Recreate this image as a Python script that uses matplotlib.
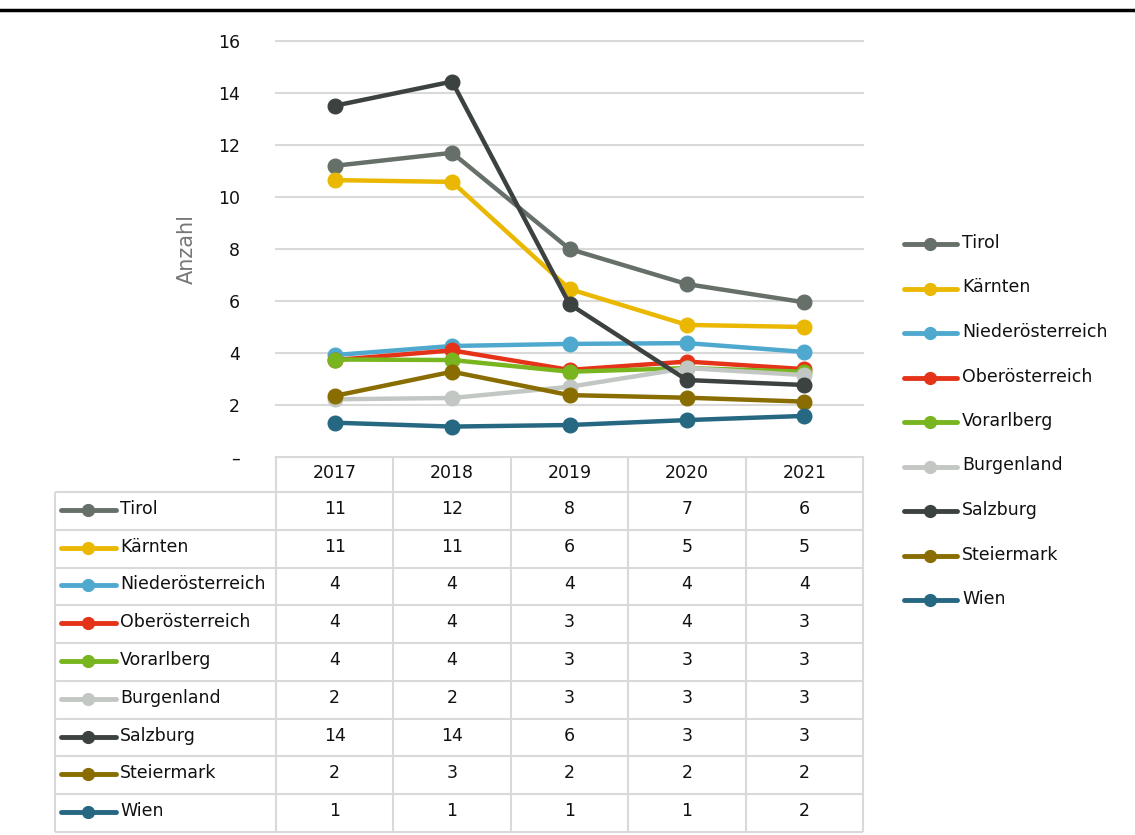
import numpy as np
import matplotlib.pyplot as plt

years = ['2017', '2018', '2019', '2020', '2021']
regions = ['Tirol', 'Kärnten', 'Niederösterreich', 'Oberösterreich', 'Vorarlberg',
           'Burgenland', 'Salzburg', 'Steiermark', 'Wien']

tirol = [11.2, 11.7, 8.0, 6.65, 5.95]
kaernten = [10.65, 10.58, 6.46, 5.08, 5.0]
noe = [3.92, 4.27, 4.35, 4.38, 4.04]
ooe = [3.73, 4.1, 3.35, 3.67, 3.38]
vorarlberg = [3.75, 3.73, 3.28, 3.42, 3.28]
burgenland = [2.22, 2.27, 2.7, 3.42, 3.15]
salzburg = [13.51, 14.44, 5.88, 2.96, 2.77]
steiermark = [2.35, 3.28, 2.38, 2.28, 2.13]
wien = [1.32, 1.17, 1.23, 1.42, 1.58]

series = [tirol, kaernten, noe, ooe, vorarlberg, burgenland, salzburg, steiermark, wien]
colors = ['#667069', '#eab800', '#4fa9cf', '#e5331a', '#78b51e',
          '#c3c7c3', '#3c423f', '#8a6d00', '#266782']

W, H = 1135, 835
plt.rcParams['font.family'] = ['DejaVu Sans']
txt = '#111111'
grid_c = '#d9d9d9'
fs = 12.5

fig = plt.figure(figsize=(W / 100, H / 100), dpi=100)

# background layer in pixel coordinates: top rule, table, legend
ov = fig.add_axes([0, 0, 1, 1])
ov.set_xlim(0, W)
ov.set_ylim(H, 0)
ov.axis('off')
ov.plot([0, W], [10, 10], color='black', lw=2.5)

# main line chart
left, right, top, bottom = 276, 863, 41, 457
ax = fig.add_axes([left / W, 1 - bottom / H, (right - left) / W, (bottom - top) / H])
x = np.arange(len(years))
for vals, c in zip(series, colors):
    ax.plot(x, vals, color=c, lw=3.2, marker='o', ms=10.5, solid_capstyle='round',
            clip_on=False)
ax.set_xlim(-0.5, len(years) - 0.5)
ax.set_ylim(0, 16)
ax.set_yticks(range(0, 17, 2))
ax.set_yticklabels(['–'] + [str(v) for v in range(2, 17, 2)])
ax.set_xticks([])
ax.tick_params(axis='y', length=0, pad=26, labelsize=fs, labelcolor=txt)
ax.grid(axis='y', color=grid_c, lw=1.5)
for gl in ax.get_ygridlines():
    gl.set_clip_on(False)
ax.set_axisbelow(True)
for s in ax.spines.values():
    s.set_visible(False)
ax.set_ylabel('Anzahl', fontsize=15, color='#777777')
ax.yaxis.set_label_coords((197 - left) / (right - left), 0.5)

# data table
col_w = (right - left) / len(years)
col_x = [left + i * col_w for i in range(len(years) + 1)]
head_top, head_bot, tab_bot, tab_left = 457, 492, 832, 55
row_h = (tab_bot - head_bot) / len(regions)
lk = dict(color=grid_c, lw=1.5, solid_capstyle='butt')
ov.plot([left, right], [head_top, head_top], **lk)
for i in range(len(regions) + 1):
    yy = head_bot + i * row_h
    ov.plot([tab_left, right], [yy, yy], **lk)
ov.plot([tab_left, tab_left], [head_bot, tab_bot], **lk)
for cx in col_x:
    ov.plot([cx, cx], [head_top, tab_bot], **lk)
for j, yr in enumerate(years):
    ov.text(col_x[j] + col_w / 2, (head_top + head_bot) / 2 - 1, yr,
            ha='center', va='center', fontsize=fs, color=txt)
for i, (name, vals, c) in enumerate(zip(regions, series, colors)):
    yc = head_bot + (i + 0.5) * row_h - 2
    ov.plot([61, 116], [yc + 1, yc + 1], color=c, lw=3.5, solid_capstyle='round')
    ov.plot([88], [yc + 1], color=c, marker='o', ms=8.5)
    ov.text(120, yc, name, ha='left', va='center', fontsize=fs, color=txt)
    for j, v in enumerate(vals):
        ov.text(col_x[j] + col_w / 2, yc, '{:.0f}'.format(v),
                ha='center', va='center', fontsize=fs, color=txt)

# legend on the right
for i, (name, c) in enumerate(zip(regions, colors)):
    yc = 244 + i * 44.5
    ov.plot([904, 957], [yc, yc], color=c, lw=3.5, solid_capstyle='round')
    ov.plot([930], [yc], color=c, marker='o', ms=8.5)
    ov.text(962, yc - 1, name, ha='left', va='center', fontsize=fs, color=txt)

fig.savefig('out.png', dpi=100)
